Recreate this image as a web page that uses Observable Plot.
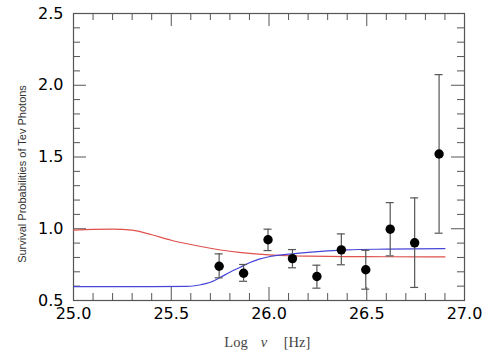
<!DOCTYPE html>
<html>
<head>
<meta charset="utf-8">
<script src="https://cdn.jsdelivr.net/npm/d3@7"></script>
<script src="https://cdn.jsdelivr.net/npm/@observablehq/plot@0.6"></script>
<style>
  html, body { margin: 0; padding: 0; background: #fff; }
</style>
</head>
<body>
<div id="chart"></div>
<script>
// Observed survival probabilities
const logNu   = [25.745, 25.87, 25.995, 26.12, 26.245, 26.37, 26.495, 26.62, 26.745, 26.87];
const surv    = [0.739, 0.690, 0.923, 0.792, 0.667, 0.853, 0.714, 0.997, 0.902, 1.521];
const survHi  = [0.825, 0.751, 0.997, 0.855, 0.746, 0.964, 0.850, 1.182, 1.215, 2.074];
const survLo  = [0.658, 0.634, 0.848, 0.728, 0.586, 0.749, 0.579, 0.811, 0.591, 0.969];

// Red model curve
const redX = [25.0, 25.1, 25.2, 25.3, 25.4, 25.5, 25.6, 25.7, 25.8, 25.9, 26.0, 26.1, 26.2, 26.4, 26.6, 26.9];
const redY = [0.990, 0.995, 0.997, 0.990, 0.958, 0.920, 0.890, 0.864, 0.843, 0.828, 0.818, 0.812, 0.809, 0.806, 0.805, 0.804];

// Blue model curve
const blueX = [25.0, 25.2, 25.4, 25.58, 25.65, 25.7, 25.75, 25.8, 25.85, 25.9, 25.95, 26.0, 26.1, 26.2, 26.3, 26.4, 26.6, 26.9];
const blueY = [0.597, 0.597, 0.597, 0.598, 0.610, 0.627, 0.660, 0.697, 0.730, 0.763, 0.788, 0.805, 0.823, 0.836, 0.846, 0.853, 0.858, 0.862];

// Axis ticks
const xMajor = [25.0, 25.5, 26.0, 26.5, 27.0];
const yMajor = [0.5, 1.0, 1.5, 2.0, 2.5];
const xMinor = d3.range(251, 270).map(d => d / 10).filter(d => Math.abs(d * 2 - Math.round(d * 2)) > 1e-6);
const yMinor = d3.range(6, 25).map(d => d / 10).filter(d => Math.abs(d * 2 - Math.round(d * 2)) > 1e-6);

// Axis titles
const xLabelParts = ["Log", "\u03BD", "[Hz]"];
const yLabel = "Survival Probabilities of Tev Photons";

const points = logNu.map((x, i) => ({x, y: surv[i], hi: survHi[i], lo: survLo[i]}));
const red = redX.map((x, i) => ({x, y: redY[i]}));
const blue = blueX.map((x, i) => ({x, y: blueY[i]}));

const W = 491, H = 355, mL = 73, mR = 27, mT = 13, mB = 55;
const iw = W - mL - mR, ih = H - mT - mB;
const minorLen = 7, majorLen = 13;
const axisColor = "#555";

const chart = Plot.plot({
  width: W, height: H,
  marginLeft: mL, marginRight: mR, marginTop: mT, marginBottom: mB,
  x: {domain: [25, 27]},
  y: {domain: [0.5, 2.5]},
  style: {fontFamily: "DejaVu Sans", background: "#fff", color: "#000"},
  marks: [
    // inward ticks
    Plot.tickX(xMinor, {x: d => d, insetTop: ih - minorLen, stroke: axisColor}),
    Plot.tickX(xMajor, {x: d => d, insetTop: ih - majorLen, stroke: axisColor}),
    Plot.tickX(xMinor, {x: d => d, insetBottom: ih - minorLen, stroke: axisColor}),
    Plot.tickX(xMajor, {x: d => d, insetBottom: ih - majorLen, stroke: axisColor}),
    Plot.tickY(yMinor, {y: d => d, insetRight: iw - minorLen, stroke: axisColor}),
    Plot.tickY(yMajor, {y: d => d, insetRight: iw - majorLen, stroke: axisColor}),
    Plot.tickY(yMinor, {y: d => d, insetLeft: iw - minorLen, stroke: axisColor}),
    Plot.tickY(yMajor, {y: d => d, insetLeft: iw - majorLen, stroke: axisColor}),
    Plot.frame({stroke: axisColor, strokeWidth: 1.2}),
    Plot.axisX({ticks: xMajor, tickSize: 0, tickPadding: 7, tickFormat: d3.format(".1f"), fontSize: 16, fill: "#000", label: null}),
    Plot.axisY({ticks: yMajor, tickSize: 0, tickPadding: 10, tickFormat: d3.format(".1f"), fontSize: 16, fill: "#000", label: null}),
    // model curves
    Plot.line(red, {x: "x", y: "y", stroke: "#e0504c", strokeWidth: 1.2, curve: "monotone-x"}),
    Plot.line(blue, {x: "x", y: "y", stroke: "#4646d8", strokeWidth: 1.2, curve: "monotone-x"}),
    // error bars
    Plot.ruleX(points, {x: "x", y1: "lo", y2: "hi", stroke: "#555", strokeWidth: 1.2}),
    Plot.ruleY(points, {y: "hi", x1: "x", x2: "x", insetLeft: -4, insetRight: -4, stroke: "#555", strokeWidth: 1.2}),
    Plot.ruleY(points, {y: "lo", x1: "x", x2: "x", insetLeft: -4, insetRight: -4, stroke: "#555", strokeWidth: 1.2}),
    Plot.dot(points, {x: "x", y: "y", r: 4.7, fill: "#000", stroke: "none"}),
    // x axis title (three parts: Log, italic nu, [Hz])
    Plot.text([xLabelParts[0]], {frameAnchor: "bottom", text: d => d, dx: -33, dy: 46, fontSize: 14.5, fontFamily: "Liberation Serif", fill: "#444"}),
    Plot.text([xLabelParts[1]], {frameAnchor: "bottom", text: d => d, dx: -5, dy: 46, fontSize: 14.5, fontStyle: "italic", fontFamily: "Liberation Serif", fill: "#444"}),
    Plot.text([xLabelParts[2]], {frameAnchor: "bottom", text: d => d, dx: 28, dy: 46, fontSize: 14.5, fontFamily: "Liberation Serif", fill: "#444", letterSpacing: "1px"}),
    // y axis title
    Plot.text([yLabel], {frameAnchor: "left", textAnchor: "middle", text: d => d, rotate: -90, dx: -51, dy: 17, fontSize: 11, fontFamily: "Liberation Sans", fill: "#333"})
  ]
});
document.getElementById("chart").appendChild(chart);
</script>
</body>
</html>
